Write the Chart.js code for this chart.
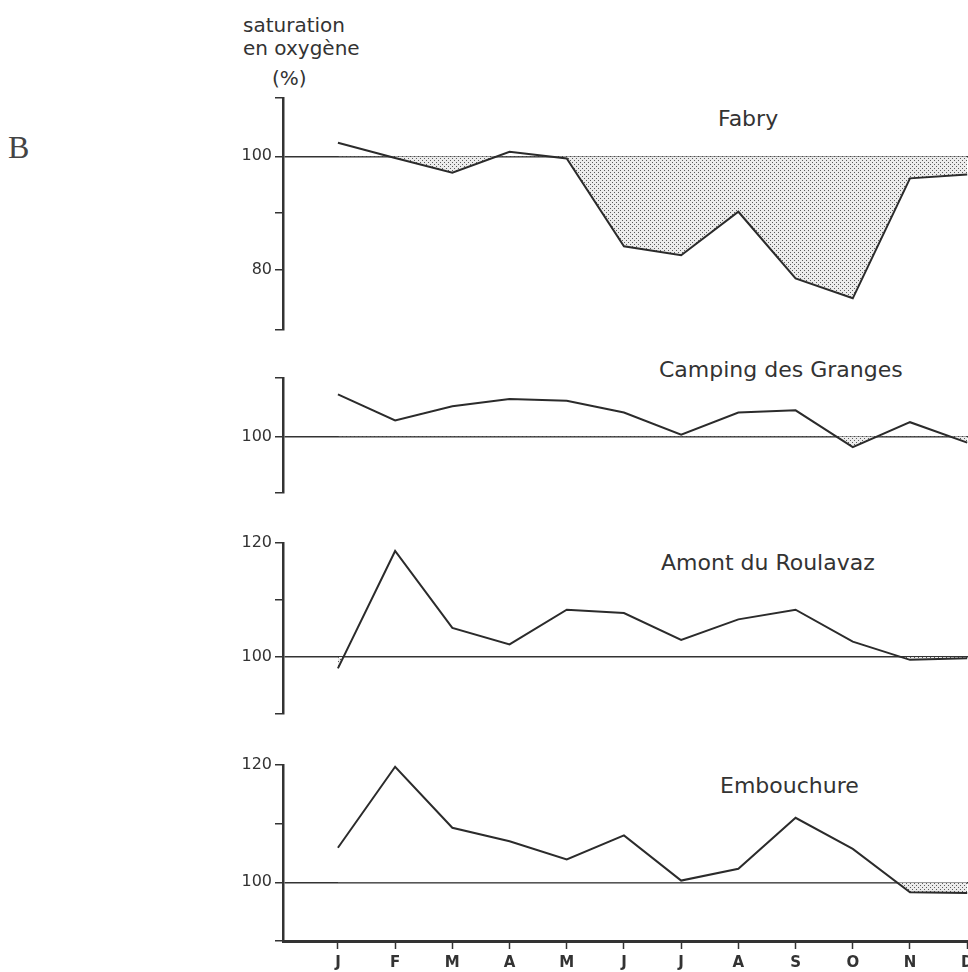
<!DOCTYPE html>
<html><head><meta charset="utf-8">
<script src="https://cdn.jsdelivr.net/npm/chart.js@4.4.0/dist/chart.umd.min.js"></script>
<style>
html,body{margin:0;padding:0;width:968px;height:972px;overflow:hidden;background:#fff;}
canvas{position:absolute;left:0;}
.t{position:absolute;font-family:'DejaVu Sans',sans-serif;color:#333;line-height:1;white-space:nowrap;}
</style></head><body>
<div class="t" style="left:8px;top:131px;font-family:'Liberation Serif',serif;font-size:32px;color:#444">B</div>
<div class="t" style="left:243px;top:15px;font-size:20px">saturation</div>
<div class="t" style="left:243px;top:38px;font-size:20px">en oxygène</div>
<div class="t" style="left:272px;top:68px;font-size:20px">(%)</div>
<div class="t" style="left:718px;top:108px;font-size:22px">Fabry</div>
<div class="t" style="left:659px;top:359px;font-size:22px">Camping des Granges</div>
<div class="t" style="left:661px;top:552px;font-size:22px">Amont du Roulavaz</div>
<div class="t" style="left:720px;top:775px;font-size:22px">Embouchure</div>
<canvas id="c0"></canvas>
<canvas id="c1"></canvas>
<canvas id="c2"></canvas>
<canvas id="c3"></canvas>
<script>
// Data
const months = ['J','F','M','A','M','J','J','A','S','O','N','D'];
const fabry      = [102.4, 99.7, 97.1, 100.8, 99.6, 84.1, 82.5, 90.2, 78.4, 74.9, 96.1, 96.8];
const camping    = [107.4, 102.8, 105.3, 106.6, 106.3, 104.2, 100.3, 104.2, 104.6, 98.1, 102.5, 98.9];
const amont      = [98.0, 118.6, 105.1, 102.2, 108.3, 107.7, 103.0, 106.6, 108.3, 102.7, 99.5, 99.8];
const embouchure = [105.9, 119.7, 109.3, 107.0, 103.9, 108.0, 100.3, 102.3, 111.0, 105.7, 98.3, 98.2];
const fabryTicks = [69.3, 80, 90, 100, 110.3];
const fabryLabels = [80, 100];
const campingTicks = [90, 100, 110.3];
const campingLabels = [100];
const amontTicks = [90, 100, 110, 120];
const amontLabels = [100, 120];
const embTicks = [90, 100, 110, 120];
const embLabels = [100, 120];

const INK = '#333';
const panels = [
  {id:'c0', data:fabry, min:69.3, max:110.3, ticks:fabryTicks, labels:fabryLabels, top:97.7, bottom:330, showX:false},
  {id:'c1', data:camping, min:90, max:110.3, ticks:campingTicks, labels:campingLabels, top:377.7, bottom:492.7, showX:false},
  {id:'c2', data:amont, min:90, max:120, ticks:amontTicks, labels:amontLabels, top:543.3, bottom:714.6, showX:false},
  {id:'c3', data:embouchure, min:90, max:120, ticks:embTicks, labels:embLabels, top:765, bottom:940.7, showX:true}
];

const W = 1010, PADT = 20, PADB = 20, XH = 40;
const xMin = -0.96, xMax = (W - 338) / 57.2;

function makePattern(ctx){
  const c = document.createElement('canvas');
  c.width = 4; c.height = 4;
  const g = c.getContext('2d');
  g.fillStyle = '#ececec'; g.fillRect(0,0,4,4);
  g.fillStyle = '#5a5a5a';
  g.fillRect(0,0,1,1); g.fillRect(2,2,1,1);
  return ctx.createPattern(c, 'repeat');
}

panels.forEach(p => {
  const cv = document.getElementById(p.id);
  const h = Math.round(p.bottom - p.top + PADT + (p.showX ? XH : PADB));
  cv.width = W; cv.height = h;
  cv.style.width = W + 'px'; cv.style.height = h + 'px';
  cv.style.top = (p.top - PADT) + 'px';
  const ctx = cv.getContext('2d');
  const pattern = makePattern(ctx);
  new Chart(ctx, {
    type: 'line',
    data: {
      datasets: [{
        data: p.data.map((v, i) => ({x: i, y: v})),
        borderColor: '#2b2b2b',
        borderWidth: 2,
        pointRadius: 0,
        tension: 0,
        fill: {target: {value: 100}, above: 'rgba(0,0,0,0)', below: pattern}
      }]
    },
    options: {
      responsive: false,
      animation: false,
      events: [],
      layout: {padding: {left: 0, right: 0, top: PADT, bottom: p.showX ? 0 : PADB}},
      plugins: {legend: {display: false}, tooltip: {enabled: false}, title: {display: false}},
      scales: {
        x: {
          type: 'linear',
          min: xMin, max: xMax,
          display: p.showX,
          afterFit: s => { s.height = p.showX ? XH : 0; },
          afterBuildTicks: s => { s.ticks = months.map((m, i) => ({value: i})); },
          ticks: {
            autoSkip: false, maxRotation: 0,
            padding: 5,
            color: INK,
            font: {family: 'DejaVu Sans', size: 15, weight: 'bold'},
            callback: v => months[v]
          },
          grid: {drawOnChartArea: false, drawTicks: true, tickLength: 8, tickColor: INK, tickWidth: 1.5},
          border: {display: true, color: INK, width: 3}
        },
        y: {
          type: 'linear',
          min: p.min, max: p.max,
          afterFit: s => { s.width = 283; },
          afterBuildTicks: s => { s.ticks = p.ticks.map(v => ({value: v})); },
          ticks: {
            autoSkip: false,
            padding: 3,
            color: INK,
            font: {family: 'DejaVu Sans', size: 16},
            callback: v => p.labels.includes(v) ? String(v) : ''
          },
          grid: {
            drawOnChartArea: true, drawTicks: true, tickLength: 8,
            color: c => (c.tick && c.tick.value === 100) ? INK : 'rgba(0,0,0,0)',
            lineWidth: 1.5,
            tickColor: INK, tickWidth: 1.5
          },
          border: {display: true, color: INK, width: 2.5}
        }
      }
    }
  });
});
</script>
</body></html>
